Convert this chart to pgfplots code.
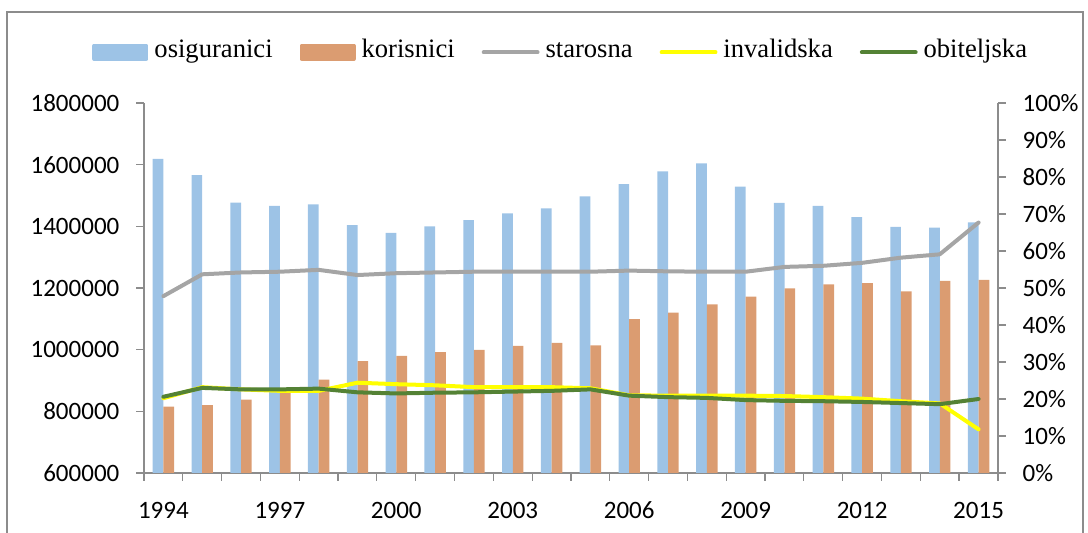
\documentclass[border=0pt]{standalone}
\usepackage{fontspec}
\setmainfont{Liberation Serif}
\newfontfamily\carlito{Carlito}
\usepackage{pgfplots}
\pgfplotsset{compat=1.18}
\definecolor{barblue}{HTML}{9DC3E6}
\definecolor{barorange}{HTML}{DB9C71}
\definecolor{lgray}{HTML}{A5A5A5}
\definecolor{lyellow}{HTML}{FFFF00}
\definecolor{lgreen}{HTML}{548235}
\definecolor{axgray}{HTML}{8C8C8C}

\pgfplotsset{
  common/.style={
    at={(sw)}, anchor=south west, scale only axis,
    width=427pt, height=185pt,
    xmin=1993.5, xmax=2015.5,
    axis line style={axgray, line width=0.6pt, -},
    tick style={axgray, line width=0.6pt},
    tick align=outside,
    major tick length=4pt, minor tick length=4pt,
    ticklabel style={font=\carlito\fontsize{12.5}{14}\selectfont},
    /pgf/number format/assume math mode=true,
  },
}

\begin{document}
\begin{tikzpicture}[x=0.5pt,y=-0.5pt]
\useasboundingbox (0,0) rectangle (1088,533);
\draw[axgray, line width=0.6pt] (7,540) -- (7,12) -- (1083,12) -- (1083,540);
\coordinate (sw) at (144,473);

% left axis: bars
\begin{axis}[common,
  axis x line*=bottom, axis y line*=left,
  ymin=600000, ymax=1800000, ytick={600000,800000,...,1800000},
  scaled y ticks=false,
  yticklabel style={/pgf/number format/fixed, /pgf/number format/1000 sep={}, xshift=-4.8pt},
  xtick={1994,1997,...,2015},
  xticklabel style={/pgf/number format/1000 sep={}, yshift=-7pt},
  major x tick style={draw=none},
  minor xtick={1993.5,1994.5,...,2015.5},
  ybar=0pt, bar width=5.35pt,
]
\addplot[fill=barblue, draw=none] coordinates {
  (1994,1619000) (1995,1566000) (1996,1477000) (1997,1466000) (1998,1471000)
  (1999,1404000) (2000,1379000) (2001,1400000) (2002,1420000) (2003,1442000)
  (2004,1458000) (2005,1497000) (2006,1537000) (2007,1578000) (2008,1604000)
  (2009,1529000) (2010,1476000) (2011,1466000) (2012,1430000) (2013,1398000)
  (2014,1396000) (2015,1413000)};
\addplot[fill=barorange, draw=none] coordinates {
  (1994,815000) (1995,820000) (1996,838000) (1997,862000) (1998,903000)
  (1999,963000) (2000,980000) (2001,992000) (2002,999000) (2003,1012000)
  (2004,1022000) (2005,1014000) (2006,1099000) (2007,1120000) (2008,1147000)
  (2009,1172000) (2010,1199000) (2011,1212000) (2012,1216000) (2013,1189000)
  (2014,1223000) (2015,1226000)};
\end{axis}

% right axis: shares
\begin{axis}[common,
  axis x line=none, axis y line*=right,
  ymin=0, ymax=100, ytick={0,10,...,100},
  yticklabel={\pgfmathprintnumber{\tick}\%},
  yticklabel style={xshift=4.8pt},
  legend style={at={(0.488,1.137)}, anchor=center, draw=none, fill=none,
    legend columns=5, font=\fontsize{13.3}{15}\selectfont,
    nodes={inner sep=1pt},
    /tikz/every even column/.append style={column sep=12.5pt,
      text height=1.55ex, text depth=0.55ex}},
  legend cell align=left,
  legend image code/.code={\draw[#1, line width=1.9pt] (0pt,0pt) -- (27pt,0pt);},
  every axis plot/.append style={line join=round, line cap=round, line width=2pt},
]
\addlegendimage{legend image code/.code={\fill[barblue] (0pt,-3.4pt) rectangle (26pt,3.4pt);}}
\addlegendentry{\hspace{2pt}osiguranici}
\addlegendimage{legend image code/.code={\fill[barorange] (0pt,-3.4pt) rectangle (26pt,3.4pt);}}
\addlegendentry{\hspace{2pt}korisnici}
\addplot[lgray] coordinates {
  (1994,47.8) (1995,53.7) (1996,54.2) (1997,54.4) (1998,54.9) (1999,53.5)
  (2000,54.0) (2001,54.2) (2002,54.4) (2003,54.4) (2004,54.4) (2005,54.4)
  (2006,54.7) (2007,54.5) (2008,54.4) (2009,54.4) (2010,55.7) (2011,56.0)
  (2012,56.8) (2013,58.2) (2014,59.1) (2015,67.7)};
\addlegendentry{\hspace{2pt}starosna}
\addplot[lyellow] coordinates {
  (1994,20.2) (1995,23.2) (1996,22.6) (1997,22.2) (1998,22.2) (1999,24.4)
  (2000,24.0) (2001,23.7) (2002,23.2) (2003,23.2) (2004,23.2) (2005,22.9)
  (2006,21.0) (2007,20.9) (2008,20.9) (2009,20.9) (2010,20.8) (2011,20.5)
  (2012,20.1) (2013,19.4) (2014,18.8) (2015,11.8)};
\addlegendentry{\hspace{2pt}invalidska}
\addplot[lgreen] coordinates {
  (1994,20.6) (1995,23.0) (1996,22.6) (1997,22.6) (1998,22.8) (1999,21.8)
  (2000,21.5) (2001,21.7) (2002,21.8) (2003,22.0) (2004,22.2) (2005,22.6)
  (2006,20.9) (2007,20.5) (2008,20.3) (2009,19.7) (2010,19.5) (2011,19.4)
  (2012,19.2) (2013,18.9) (2014,18.6) (2015,20.0)};
\addlegendentry{\hspace{2pt}obiteljska}
\end{axis}
\end{tikzpicture}
\end{document}
